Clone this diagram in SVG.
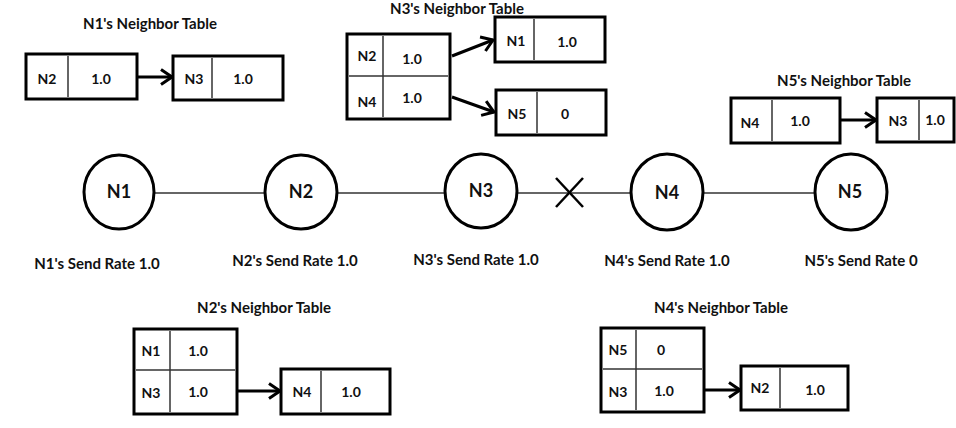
<svg xmlns="http://www.w3.org/2000/svg" width="956" height="428" viewBox="0 0 956 428">
  <style>
    text { font-family: Lato, "Open Sans", "Liberation Sans", sans-serif; font-weight: bold; fill: #111; text-anchor: middle; dominant-baseline: central; }
    .title { font-size: 15px; }
    .rate { font-size: 15px; }
    .cell { font-size: 14px; }
    .nlabel { font-size: 18px; }
    .box { fill: #fff; stroke: #000; stroke-width: 3; }
    .div { stroke: #333; stroke-width: 1.5; fill: none; }
    .node { fill: #fff; stroke: #000; stroke-width: 3; }
    .link { stroke: #333; stroke-width: 1.5; fill: none; }
    .ptr { stroke: #000; stroke-width: 3; fill: none; marker-end: url(#chev); }
  </style>
  <defs>
    <marker id="chev" viewBox="0 0 14 18" refX="12.5" refY="9" markerWidth="14" markerHeight="18" markerUnits="userSpaceOnUse" orient="auto">
      <path d="M1.5,1.5 L12.5,9 L1.5,16.5" fill="none" stroke="#000" stroke-width="3"/>
    </marker>
  </defs>
  <rect width="956" height="428" fill="#fff"/>

  <!-- links between nodes -->
  <g id="connectors">
    <line class="link" x1="154" y1="193" x2="265" y2="193"/>
    <line class="link" x1="337" y1="193" x2="445" y2="193"/>
    <line class="link" x1="517" y1="193" x2="631" y2="193"/>
    <line class="link" x1="703" y1="193" x2="815" y2="193"/>
    <!-- broken link mark -->
    <line stroke="#000" stroke-width="2.5" x1="556" y1="178" x2="583" y2="207"/>
    <line stroke="#000" stroke-width="2.5" x1="583" y1="178" x2="556" y2="207"/>
    <!-- table pointers -->
    <line class="ptr" x1="137" y1="77" x2="172" y2="77"/>
    <line class="ptr" x1="452" y1="56" x2="493" y2="40"/>
    <line class="ptr" x1="452" y1="97" x2="494" y2="112"/>
    <line class="ptr" x1="840" y1="120" x2="876" y2="120"/>
    <line class="ptr" x1="237" y1="391" x2="280" y2="391"/>
    <line class="ptr" x1="704" y1="390" x2="740" y2="390"/>
  </g>

  <!-- nodes -->
  <g id="N1">
    <ellipse class="node" cx="119" cy="192" rx="35" ry="37"/>
    <text class="nlabel" x="119" y="191">N1</text>
    <text class="rate" x="97" y="263">N1's Send Rate 1.0</text>
  </g>
  <g id="N2">
    <ellipse class="node" cx="301" cy="192" rx="36" ry="37"/>
    <text class="nlabel" x="301" y="191">N2</text>
    <text class="rate" x="295" y="260">N2's Send Rate 1.0</text>
  </g>
  <g id="N3">
    <ellipse class="node" cx="481" cy="191" rx="36" ry="37"/>
    <text class="nlabel" x="481" y="190">N3</text>
    <text class="rate" x="476" y="259">N3's Send Rate 1.0</text>
  </g>
  <g id="N4">
    <ellipse class="node" cx="667" cy="192" rx="36" ry="38"/>
    <text class="nlabel" x="667" y="192">N4</text>
    <text class="rate" x="667" y="260">N4's Send Rate 1.0</text>
  </g>
  <g id="N5">
    <ellipse class="node" cx="851" cy="192" rx="36" ry="38"/>
    <text class="nlabel" x="850" y="191">N5</text>
    <text class="rate" x="861" y="260">N5's Send Rate 0</text>
  </g>

  <!-- N1's neighbor table -->
  <g id="N1-table">
    <text class="title" x="150" y="23">N1's Neighbor Table</text>
    <rect class="box" x="26" y="54" width="111" height="45"/>
    <line class="div" x1="68" y1="56" x2="68" y2="97"/>
    <text class="cell" x="47" y="78">N2</text>
    <text class="cell" x="101" y="78">1.0</text>
    <rect class="box" x="173" y="56" width="110" height="44"/>
    <line class="div" x1="212" y1="58" x2="212" y2="98"/>
    <text class="cell" x="194" y="78">N3</text>
    <text class="cell" x="243" y="78">1.0</text>
  </g>

  <!-- N3's neighbor table -->
  <g id="N3-table">
    <text class="title" x="457" y="8">N3's Neighbor Table</text>
    <rect class="box" x="347" y="34" width="103" height="85"/>
    <line class="div" x1="349" y1="76" x2="448" y2="76"/>
    <line class="div" x1="383" y1="36" x2="383" y2="117"/>
    <text class="cell" x="367" y="55">N2</text>
    <text class="cell" x="412" y="58">1.0</text>
    <text class="cell" x="367" y="101">N4</text>
    <text class="cell" x="412" y="97">1.0</text>
    <rect class="box" x="495" y="17" width="110" height="45"/>
    <line class="div" x1="534" y1="19" x2="534" y2="60"/>
    <text class="cell" x="516" y="40">N1</text>
    <text class="cell" x="567" y="41">1.0</text>
    <rect class="box" x="496" y="90" width="110" height="45"/>
    <line class="div" x1="537" y1="92" x2="537" y2="133"/>
    <text class="cell" x="517" y="113">N5</text>
    <text class="cell" x="565" y="113">0</text>
  </g>

  <!-- N5's neighbor table -->
  <g id="N5-table">
    <text class="title" x="844" y="80">N5's Neighbor Table</text>
    <rect class="box" x="731" y="98" width="109" height="45"/>
    <line class="div" x1="772" y1="100" x2="772" y2="141"/>
    <text class="cell" x="750" y="122">N4</text>
    <text class="cell" x="800" y="120">1.0</text>
    <rect class="box" x="877" y="98" width="77" height="44"/>
    <line class="div" x1="919" y1="100" x2="919" y2="140"/>
    <text class="cell" x="898" y="120">N3</text>
    <text class="cell" x="935" y="119">1.0</text>
  </g>

  <!-- N2's neighbor table -->
  <g id="N2-table">
    <text class="title" x="264" y="307">N2's Neighbor Table</text>
    <rect class="box" x="134" y="329" width="103" height="85"/>
    <line class="div" x1="136" y1="370" x2="235" y2="370"/>
    <line class="div" x1="170" y1="331" x2="170" y2="412"/>
    <text class="cell" x="151" y="350">N1</text>
    <text class="cell" x="198" y="350">1.0</text>
    <text class="cell" x="151" y="392">N3</text>
    <text class="cell" x="198" y="391">1.0</text>
    <rect class="box" x="281" y="369" width="109" height="45"/>
    <line class="div" x1="321" y1="371" x2="321" y2="412"/>
    <text class="cell" x="302" y="391">N4</text>
    <text class="cell" x="351" y="391">1.0</text>
  </g>

  <!-- N4's neighbor table -->
  <g id="N4-table">
    <text class="title" x="721" y="307">N4's Neighbor Table</text>
    <rect class="box" x="601" y="328" width="103" height="84"/>
    <line class="div" x1="603" y1="369" x2="702" y2="369"/>
    <line class="div" x1="636" y1="330" x2="636" y2="410"/>
    <text class="cell" x="618" y="349">N5</text>
    <text class="cell" x="661" y="349">0</text>
    <text class="cell" x="618" y="391">N3</text>
    <text class="cell" x="664" y="390">1.0</text>
    <rect class="box" x="741" y="366" width="107" height="44"/>
    <line class="div" x1="780" y1="368" x2="780" y2="408"/>
    <text class="cell" x="760" y="387">N2</text>
    <text class="cell" x="815" y="389">1.0</text>
  </g>
</svg>
